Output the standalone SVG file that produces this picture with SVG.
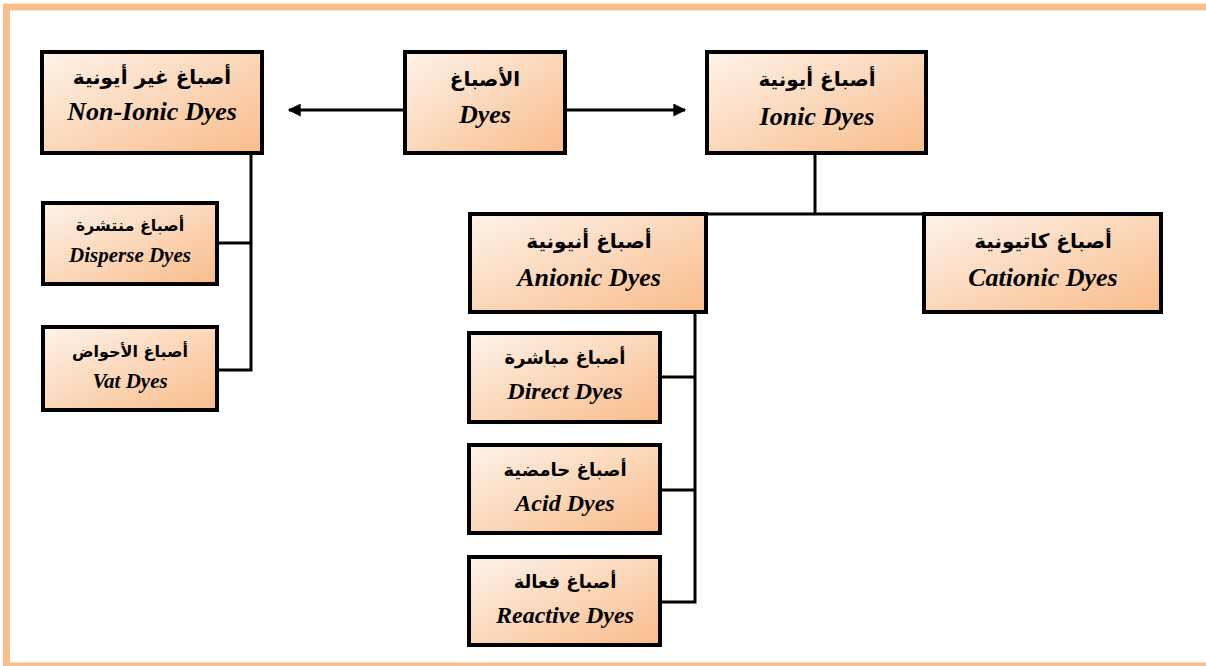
<svg xmlns="http://www.w3.org/2000/svg" width="1206" height="666" viewBox="0 0 1206 666">
<style>
.box{fill:url(#g);stroke:#000;stroke-width:4}
.sh{fill:#bdbdbd}
.ar{font-family:"DejaVu Sans","Noto Sans",sans-serif;font-weight:bold;text-anchor:middle;fill:#000}
.en{font-family:"Liberation Serif","Times New Roman",serif;font-weight:bold;font-style:italic;text-anchor:middle;fill:#000}
.c{stroke:#000;stroke-width:3;fill:none}
</style>
<defs>
<linearGradient id="g" x1="0" y1="0" x2="1" y2="1">
<stop offset="0" stop-color="#fef3ea"/>
<stop offset="1" stop-color="#f8bc8a"/>
</linearGradient>
<marker id="ah" viewBox="0 0 10 10" refX="9" refY="5" markerWidth="15" markerHeight="13" markerUnits="userSpaceOnUse" orient="auto">
<path d="M0,0 L10,5 L0,10 z" fill="#000"/>
</marker>
</defs>
<rect x="6.5" y="7" width="1230" height="659" fill="#fff" stroke="#f9be8d" stroke-width="7"/>
<g id="connectors">
<line class="c" x1="405" y1="110" x2="289" y2="110" marker-end="url(#ah)"/>
<line class="c" x1="565" y1="110" x2="685" y2="110" marker-end="url(#ah)"/>
<path class="c" d="M251,153 V370 M217,243 H251 M217,370 H252.5"/>
<path class="c" d="M815,153 V214 M706,214 H924"/>
<path class="c" d="M695,312 V602 M660,377 H695 M660,490 H695 M660,602 H696.5"/>
</g>
<g id="nonionic">
<rect class="box" x="42" y="52" width="220" height="101"/>
<text class="ar" x="152" y="84" font-size="20">أصباغ غير أيونية</text>
<text class="en" x="152" y="120" font-size="26">Non-Ionic Dyes</text>
</g>
<g id="dyes">
<rect class="box" x="405" y="52" width="160" height="101"/>
<text class="ar" x="485" y="86" font-size="20">الأصباغ</text>
<text class="en" x="485" y="123" font-size="26">Dyes</text>
</g>
<g id="ionic">
<rect class="box" x="707" y="52" width="219" height="101"/>
<text class="ar" x="817" y="86" font-size="20">أصباغ أيونية</text>
<text class="en" x="817" y="125" font-size="26">Ionic Dyes</text>
</g>
<g id="anionic">
<rect class="box" x="470" y="214" width="236" height="98"/>
<text class="ar" x="589" y="248" font-size="20">أصباغ أنيونية</text>
<text class="en" x="589" y="286" font-size="26">Anionic Dyes</text>
</g>
<g id="cationic">
<rect class="box" x="924" y="214" width="237" height="98"/>
<text class="ar" x="1043" y="248" font-size="20">أصباغ كاتيونية</text>
<text class="en" x="1043" y="286" font-size="26">Cationic Dyes</text>
</g>
<g id="disperse">
<rect class="box" x="43" y="203" width="174" height="81"/>
<text class="ar" x="130" y="231" font-size="16">أصباغ منتشرة</text>
<text class="en" x="130" y="262" font-size="21">Disperse Dyes</text>
</g>
<g id="vat">
<rect class="box" x="43" y="327" width="174" height="83"/>
<text class="ar" x="130" y="357" font-size="16">أصباغ الأحواض</text>
<text class="en" x="130" y="388" font-size="21">Vat Dyes</text>
</g>
<g id="direct">
<rect class="box" x="469" y="333" width="191" height="89"/>
<text class="ar" x="565" y="364" font-size="18">أصباغ مباشرة</text>
<text class="en" x="565" y="399" font-size="24">Direct Dyes</text>
</g>
<g id="acid">
<rect class="box" x="469" y="445" width="191" height="88"/>
<text class="ar" x="565" y="476" font-size="18">أصباغ حامضية</text>
<text class="en" x="565" y="511" font-size="24">Acid Dyes</text>
</g>
<g id="reactive">
<rect class="box" x="469" y="557" width="191" height="88"/>
<text class="ar" x="565" y="588" font-size="18">أصباغ فعالة</text>
<text class="en" x="565" y="623" font-size="24">Reactive Dyes</text>
</g>
</svg>
